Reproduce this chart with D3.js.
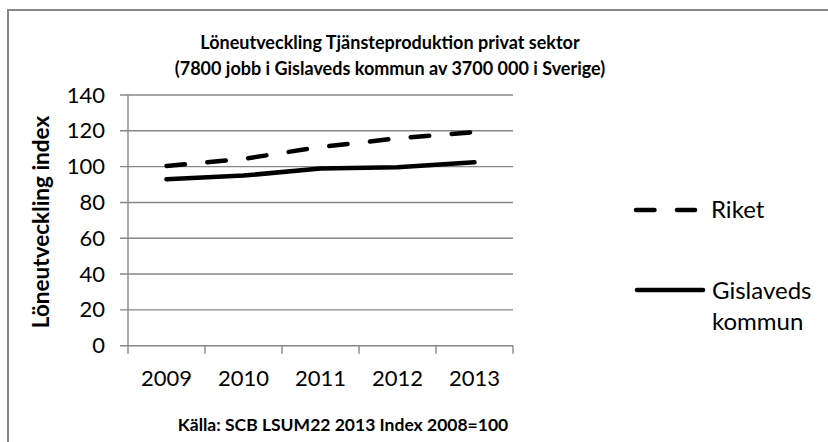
<!DOCTYPE html>
<html>
<head>
<meta charset="utf-8">
<script src="https://cdn.jsdelivr.net/npm/d3@7"></script>
<style>
  html, body { margin: 0; padding: 0; background: #fff; }
  svg { display: block; }
  text { font-family: Lato, "Open Sans", sans-serif; fill: #000; }
</style>
</head>
<body>
<svg id="chart" width="828" height="442"></svg>
<script>
// Löneutveckling, index 2008 = 100
const years = ["2009", "2010", "2011", "2012", "2013"];
const riket = [100.4, 104.3, 111.0, 115.8, 119.3];
const gislaved = [92.9, 95.0, 98.9, 99.7, 102.4];
const yTicks = [0, 20, 40, 60, 80, 100, 120, 140];
const seriesNames = ["Riket", "Gislaveds kommun"];

const titleLines = [
  "Löneutveckling Tjänsteproduktion privat sektor",
  "(7800 jobb i Gislaveds kommun av 3700 000 i Sverige)"
];
const yTitle = "Löneutveckling index";
const sourceNote = "Källa: SCB LSUM22 2013 Index 2008=100";

const svg = d3.select("#chart");
const gridColor = "#878787";

// chart frame (runs past the right and bottom edges)
svg.append("rect")
  .attr("x", 8).attr("y", 10)
  .attr("width", 840).attr("height", 450)
  .attr("fill", "none")
  .attr("stroke", gridColor)
  .attr("stroke-width", 2);

const plot = { left: 128, right: 513, top: 95, bottom: 345.7 };

const x = d3.scaleBand().domain(years).range([plot.left, plot.right]).padding(0);
const y = d3.scaleLinear().domain([0, 140]).range([plot.bottom, plot.top]);
const cx = d => x(d) + x.bandwidth() / 2;

// horizontal gridlines, with outside tick marks
svg.append("g").selectAll("line").data(yTicks).join("line")
  .attr("x1", plot.left - 8).attr("x2", plot.right)
  .attr("y1", d => y(d)).attr("y2", d => y(d))
  .attr("stroke", gridColor).attr("stroke-width", 1.4);

// vertical axis line
svg.append("line")
  .attr("x1", plot.left).attr("x2", plot.left)
  .attr("y1", y(140)).attr("y2", y(0))
  .attr("stroke", gridColor).attr("stroke-width", 1.4);

// category boundary ticks below the baseline
const bounds = years.map(d => x(d)).concat([x(years[years.length - 1]) + x.bandwidth()]);
svg.append("g").selectAll("line").data(bounds).join("line")
  .attr("x1", d => d).attr("x2", d => d)
  .attr("y1", y(0)).attr("y2", y(0) + 8)
  .attr("stroke", gridColor).attr("stroke-width", 1.4);

// y tick labels
const yAxis = svg.append("g")
  .attr("transform", `translate(${plot.left},0)`)
  .call(d3.axisLeft(y).tickValues(yTicks).tickSize(0).tickPadding(23));
yAxis.select(".domain").remove();
yAxis.selectAll("text")
  .style("font-family", "Lato, sans-serif")
  .style("font-size", "22px")
  .attr("fill", "#000");

// x tick labels
const xAxis = svg.append("g")
  .attr("transform", `translate(0,${plot.bottom})`)
  .call(d3.axisBottom(x).tickSize(0).tickPadding(25));
xAxis.select(".domain").remove();
xAxis.selectAll("text")
  .style("font-family", "Lato, sans-serif")
  .style("font-size", "22px")
  .attr("fill", "#000");

// series lines
const line = d3.line().x((d, i) => cx(years[i])).y(d => y(d));

svg.append("path")
  .datum(gislaved)
  .attr("d", line)
  .attr("fill", "none")
  .attr("stroke", "#000")
  .attr("stroke-width", 4.5)
  .attr("stroke-linecap", "round")
  .attr("stroke-linejoin", "round");

svg.append("path")
  .datum(riket)
  .attr("d", line)
  .attr("fill", "none")
  .attr("stroke", "#000")
  .attr("stroke-width", 4.5)
  .attr("stroke-dasharray", "18.5 22.5")
  .attr("stroke-linecap", "round")
  .attr("stroke-linejoin", "round");

// title
svg.append("g").selectAll("text").data(titleLines).join("text")
  .attr("x", 390)
  .attr("y", (d, i) => 49 + i * 26)
  .attr("text-anchor", "middle")
  .style("font-weight", "bold")
  .style("font-size", "18px")
  .text(d => d);

// y axis title
svg.append("text")
  .attr("transform", `translate(49,222) rotate(-90)`)
  .attr("text-anchor", "middle")
  .style("font-weight", "bold")
  .style("font-size", "22.5px")
  .text(yTitle);

// source note under the axis
svg.append("text")
  .attr("x", 343)
  .attr("y", 431)
  .attr("text-anchor", "middle")
  .style("font-weight", "bold")
  .style("font-size", "17.5px")
  .text(sourceNote);

// legend
const legend = svg.append("g");
legend.append("line")
  .attr("x1", 636).attr("x2", 695)
  .attr("y1", 210).attr("y2", 210)
  .attr("stroke", "#000").attr("stroke-width", 4.5)
  .attr("stroke-dasharray", "18.5 22.5")
  .attr("stroke-linecap", "round");
legend.append("text")
  .attr("x", 711).attr("y", 218)
  .style("font-size", "24px")
  .text(seriesNames[0]);

legend.append("line")
  .attr("x1", 637).attr("x2", 703)
  .attr("y1", 290).attr("y2", 290)
  .attr("stroke", "#000").attr("stroke-width", 4.5)
  .attr("stroke-linecap", "round");
const gl = legend.append("text")
  .attr("x", 712).attr("y", 299)
  .style("font-size", "24px");
seriesNames[1].split(" ").forEach((w, i) => {
  gl.append("tspan").attr("x", 712).attr("dy", i === 0 ? 0 : 30.5).text(w);
});
</script>
</body>
</html>
